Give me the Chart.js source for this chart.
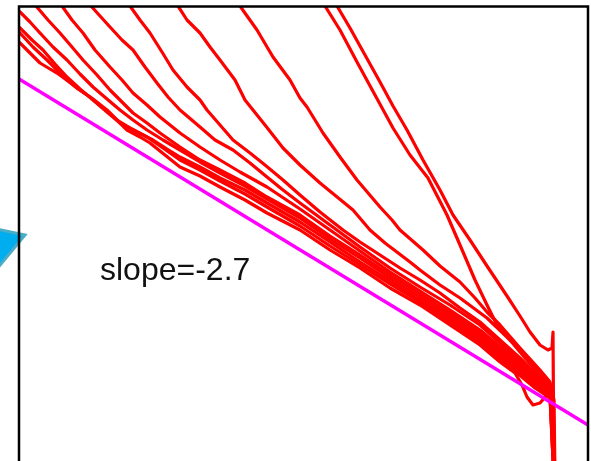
<!DOCTYPE html>
<html>
<head>
<meta charset="utf-8">
<script src="https://cdn.jsdelivr.net/npm/chart.js@4/dist/chart.umd.min.js"></script>
<style>
  html, body { margin: 0; padding: 0; background: #fff; overflow: hidden; }
  #wrap { position: relative; width: 591px; height: 461px; overflow: hidden; }
  #arrow { position: absolute; left: 0; top: 0; }
  #plot { position: absolute; left: 0; top: 0; }
</style>
</head>
<body>
<div id="wrap">
  <svg id="arrow" width="40" height="300">
    <polygon points="-4,229 25,235 -4,270" fill="#00aeef" stroke="#4bacc6" stroke-width="3" />
  </svg>
  <canvas id="plot" width="591" height="480"></canvas>
</div>
<script>
// Axis ranges (arbitrary log units)
const xRange = [0, 569];
const yRange = [0, 469];

// Fitted power law
const slopeLabel = 'slope=-2.7';
const slopeLabelAt = [81, 195];
const slopeFit = [[0, 396], [569, 50]];

// Spectra, steepest first
const trace01 = [[308,487],[318,469],[331,447],[346,420],[361,393],[374,369],[388,345],[404,315],[421,285],[434,260],[451,235],[468,209],[488,179],[501,159],[511,143],[521,130],[529,125],[533,127],[534,143],[535,-5]];
const trace02 = [[296,487],[306,469],[321,445],[338,413],[356,380],[374,347],[391,320],[409,297],[428,260],[441,230],[456,195],[468,170],[473,160],[478,150],[491,135],[506,117],[521,100],[531,90],[534,80],[535,-5]];
const trace03 = [[214,487],[221,469],[238,445],[254,418],[271,395],[281,377],[288,368],[304,342],[321,318],[338,295],[361,268],[373,255],[381,245],[404,225],[421,209],[441,193],[456,177],[468,163],[481,150],[501,127],[521,105],[531,93],[535,75],[536,-5]];
const trace04 = [[147,487],[159,469],[168,455],[181,442],[191,428],[201,415],[216,395],[226,375],[246,350],[264,327],[281,310],[301,292],[334,265],[351,245],[366,232],[391,213],[401,205],[421,190],[441,177],[468,157],[491,135],[511,115],[529,95],[534,83],[535,-5]];
const trace05 = [[103,487],[111,469],[121,455],[131,442],[143,423],[154,405],[168,388],[181,375],[188,365],[201,350],[214,335],[231,322],[246,310],[264,295],[281,280],[301,263],[324,245],[341,233],[361,220],[381,207],[401,195],[421,182],[441,167],[461,153],[481,135],[501,117],[526,92],[534,79],[535,-5]];
const trace06 = [[64,487],[72,469],[81,459],[91,448],[103,435],[114,425],[126,408],[138,392],[149,378],[161,365],[181,348],[196,335],[214,325],[231,312],[248,298],[264,285],[281,272],[311,250],[341,228],[371,207],[401,188],[431,170],[461,150],[491,123],[516,100],[531,87],[534,77],[535,-5]];
const trace07 = [[35,487],[43,469],[53,455],[64,442],[76,425],[91,408],[103,395],[114,382],[128,370],[141,358],[161,342],[181,328],[201,315],[221,303],[248,288],[281,266],[311,245],[341,224],[371,203],[401,184],[431,165],[461,145],[491,120],[516,97],[531,85],[534,75],[536,-5]];
const trace08 = [[7,487],[17,469],[29,455],[41,442],[53,428],[64,415],[78,400],[91,385],[103,373],[114,362],[128,352],[141,342],[161,328],[181,315],[201,305],[226,292],[248,278],[281,260],[311,239],[341,220],[371,200],[401,181],[431,162],[461,142],[491,117],[516,95],[531,83],[535,-5]];
const trace09 = [[-11,473],[1,463],[11,453],[21,442],[34,428],[48,415],[61,401],[74,388],[88,376],[101,365],[114,355],[128,345],[144,335],[161,325],[181,313],[201,302],[226,289],[248,276],[281,257],[311,236],[341,217],[371,197],[401,178],[431,159],[461,139],[491,114],[516,92],[531,81],[535,-5]];
const trace10 = [[-11,457],[1,447],[13,435],[24,425],[36,411],[48,398],[61,386],[74,375],[88,363],[101,352],[118,343],[134,335],[148,326],[161,318],[181,308],[201,297],[226,285],[248,272],[281,253],[311,233],[341,213],[371,194],[401,175],[431,156],[461,136],[491,111],[516,89],[531,79],[536,-5]];
const trace11 = [[-11,453],[1,442],[14,428],[28,415],[38,405],[48,395],[59,386],[71,378],[84,367],[98,355],[113,346],[128,338],[144,327],[161,315],[181,305],[201,294],[226,281],[248,268],[281,249],[311,229],[341,210],[371,191],[401,173],[431,153],[461,133],[491,108],[516,87],[531,77],[535,-5]];
const trace12 = [[-11,442],[1,432],[11,422],[21,412],[31,406],[38,402],[49,394],[61,385],[74,376],[88,365],[98,355],[108,345],[121,338],[131,332],[146,320],[161,308],[181,299],[201,288],[226,275],[248,262],[281,245],[311,225],[341,207],[371,187],[401,170],[431,150],[461,130],[481,113],[496,102],[503,90],[508,78],[514,70],[521,72],[527,79],[532,87],[534,75],[535,-5]];

const traces = [trace01, trace02, trace03, trace04, trace05, trace06,
                trace07, trace08, trace09, trace10, trace11, trace12];

const toPoints = arr => arr.map(p => ({ x: p[0], y: p[1] }));

// Box around the plot area
const frame = {
  id: 'frame',
  afterDraw(chart) {
    const { ctx, chartArea: a } = chart;
    ctx.save();
    ctx.strokeStyle = '#000';
    ctx.lineWidth = 2.5;
    ctx.strokeRect(a.left, a.top + 0.5, a.right - a.left, a.bottom - a.top);
    ctx.restore();
  }
};

// Slope annotation, placed in data units
const slopeText = {
  id: 'slopeText',
  afterDatasetsDraw(chart) {
    const { ctx, scales } = chart;
    ctx.save();
    ctx.font = '32px "Liberation Sans", Arial, sans-serif';
    ctx.fillStyle = '#111';
    ctx.textBaseline = 'alphabetic';
    ctx.fillText(slopeLabel, scales.x.getPixelForValue(slopeLabelAt[0]), scales.y.getPixelForValue(slopeLabelAt[1]));
    ctx.restore();
  }
};

const datasets = [{
  data: toPoints(slopeFit),
  borderColor: '#ff00ff',
  borderWidth: 3.5
}].concat(traces.map(t => ({
  data: toPoints(t),
  borderColor: '#ff0000',
  borderWidth: 3.2,
  borderJoinStyle: 'round',
  borderCapStyle: 'round'
})));

new Chart(document.getElementById('plot'), {
  type: 'line',
  data: { datasets: datasets },
  options: {
    responsive: false,
    animation: false,
    layout: { padding: { left: 19, right: 3, top: 6, bottom: 5 } },
    elements: { point: { radius: 0 }, line: { tension: 0, fill: false } },
    plugins: { legend: { display: false }, tooltip: { enabled: false } },
    scales: {
      x: { type: 'linear', min: xRange[0], max: xRange[1], display: false },
      y: { type: 'linear', min: yRange[0], max: yRange[1], display: false }
    }
  },
  plugins: [frame, slopeText]
});
</script>
</body>
</html>
